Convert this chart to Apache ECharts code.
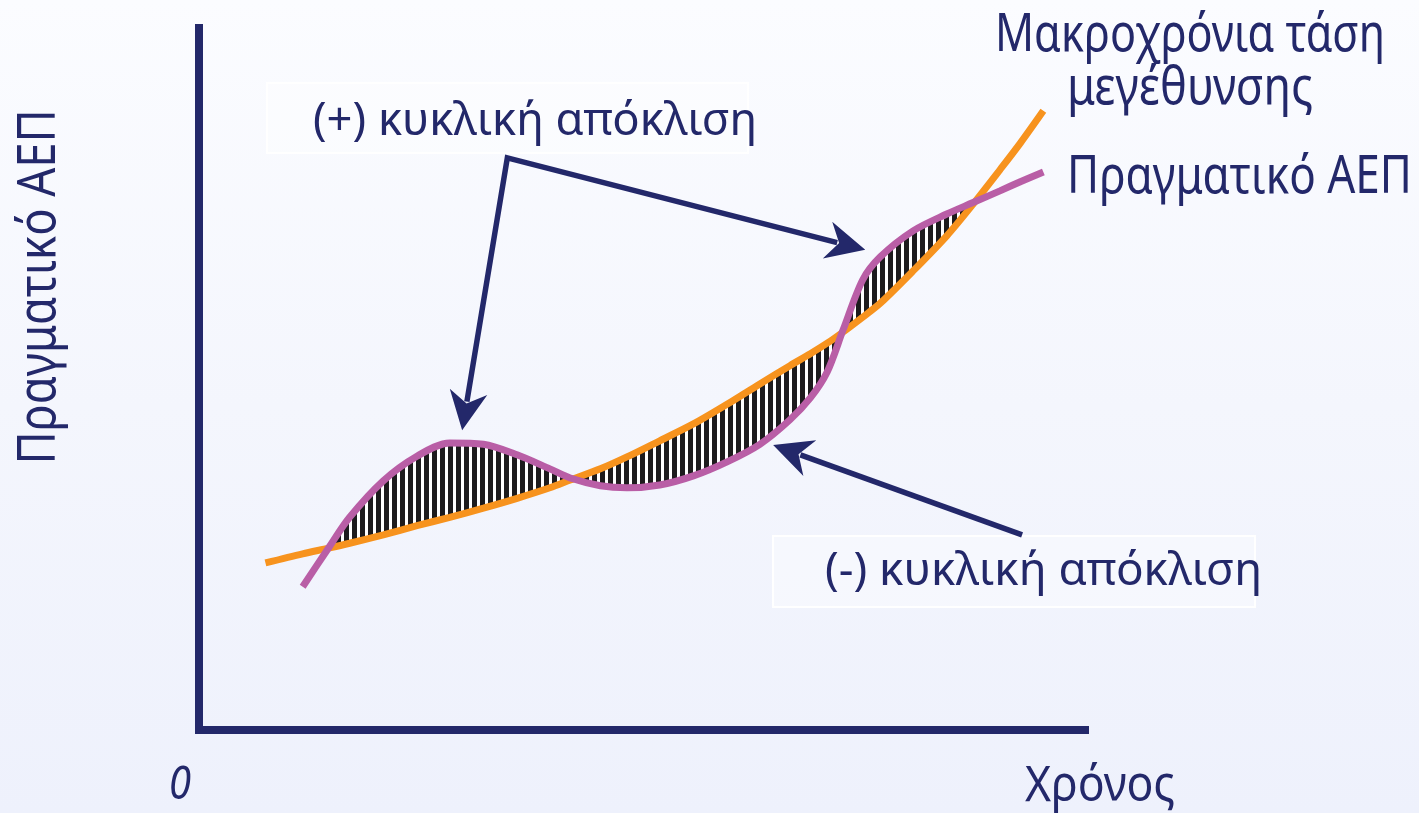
<!DOCTYPE html>
<html lang="el">
<head>
<meta charset="utf-8">
<title>Πραγματικό ΑΕΠ και μακροχρόνια τάση</title>
<script src="https://cdn.jsdelivr.net/npm/echarts@6/dist/echarts.min.js"></script>
<style>
  html, body { margin: 0; padding: 0; }
  body { width: 1419px; height: 813px; background: linear-gradient(180deg, #fbfcff 0%, #f4f6fd 50%, #eef1fc 100%); }
  #chart { width: 1419px; height: 813px; }
</style>
</head>
<body>
<div id="chart"></div>
<script>
// Time (x) and GDP level (y) on a 0–100 schematic scale
const time      = [7.5, 11.7, 14.6, 17.0, 20.8, 24.6, 28.3, 32.1, 35.9, 39.6, 41.9, 45.3, 48.3, 52.0, 55.8, 59.6, 63.3, 66.7, 69.0, 70.9, 72.7, 74.9, 76.9, 80.6, 84.4, 87.3, 90.4, 92.7, 95.3];
// Long-run growth trend
const trendGdp  = [23.8, 25.1, 25.9, 26.6, 27.8, 29.1, 30.3, 31.6, 33.0, 34.5, 35.6, 37.2, 38.9, 41.2, 43.6, 46.4, 49.3, 51.9, 53.6, 55.1, 56.7, 58.8, 60.8, 65.4, 70.4, 74.8, 79.8, 83.6, 88.2];
// Actual (real) GDP
const realGdp   = [null, 20.4, 25.9, 30.3, 35.5, 39.0, 40.9, 40.7, 39.2, 37.2, 35.9, 34.8, 34.5, 34.9, 36.2, 38.2, 40.7, 44.2, 47.3, 51.0, 57.0, 64.1, 67.4, 71.1, 73.5, 75.1, 76.8, 78.1, 79.5];
// Stretch where the cyclical gap is shaded (first to last crossing)
const gapFrom = 2, gapTo = 25;

// Annotation arrows (time, GDP) — the (+) arrow forks from one corner
const plusArrowPath  = [[29.7, 42.7], [34.8, 81.5], [75.2, 68.4]];
const minusArrowPath = [[92.9, 27.8], [64.8, 40.6]];

// Texts
const yAxisTitle   = 'Πραγματικό ΑΕΠ';
const xAxisTitle   = 'Χρόνος';
const originLabel  = '0';
const trendLabel   = ['Μακροχρόνια τάση', 'μεγέθυνσης'];
const realLabel    = 'Πραγματικό ΑΕΠ';
const plusLabel    = '(+) κυκλική απόκλιση';
const minusLabel   = '(-) κυκλική απόκλιση';

const NAVY = '#23286a';
const ORANGE = '#f7931e';
const PURPLE = '#b95ea6';
const FONT = '"Noto Sans", "Open Sans", "DejaVu Sans", sans-serif';

// vertical black/white stripes for the gap fill
function stripePattern() {
  const c = document.createElement('canvas');
  c.width = 8; c.height = 8;
  const g = c.getContext('2d');
  g.fillStyle = '#ffffff'; g.fillRect(0, 0, 8, 8);
  g.fillStyle = '#1d1b1d'; g.fillRect(0, 0, 5, 8);
  return { type: 'pattern', image: c, repeat: 'repeat' };
}

// horizontal squeeze so a string spans a given width
const measureCtx = document.createElement('canvas').getContext('2d');
function squeeze(text, font, width) {
  measureCtx.font = font;
  return width / measureCtx.measureText(text).width;
}

function textEl(text, size, x, y, width, opts) {
  opts = opts || {};
  const font = (opts.italic ? 'italic ' : '') + size + 'px ' + FONT;
  return Object.assign({
    type: 'text', x: x, y: y, z: 100, silent: true,
    scaleX: squeeze(text, font, width),
    style: {
      text: text, font: font, fill: NAVY,
      align: opts.align || 'left', verticalAlign: 'middle',
      textAlign: opts.align || 'left', textVerticalAlign: 'middle'
    }
  }, opts.extra || {});
}

const hatch = stripePattern();

function arrowShapes(path, api, headsAtStart) {
  const pts = path.map(p => api.coord(p));
  const L = 39, W = 19, N = 27;
  const out = [];
  function head(tip, from) {
    const dx = tip[0] - from[0], dy = tip[1] - from[1];
    const len = Math.hypot(dx, dy), ux = dx / len, uy = dy / len, nx = -uy, ny = ux;
    out.push({
      type: 'polygon',
      shape: { points: [
        tip,
        [tip[0] - ux * L + nx * W, tip[1] - uy * L + ny * W],
        [tip[0] - ux * N, tip[1] - uy * N],
        [tip[0] - ux * L - nx * W, tip[1] - uy * L - ny * W]
      ] },
      style: { fill: NAVY }
    });
    return [tip[0] - ux * (N + 2), tip[1] - uy * (N + 2)];
  }
  const line = pts.slice();
  line[line.length - 1] = head(pts[pts.length - 1], pts[pts.length - 2]);
  if (headsAtStart) line[0] = head(pts[0], pts[1]);
  out.unshift({
    type: 'polyline', shape: { points: line },
    style: { stroke: NAVY, lineWidth: 5.5, fill: null, lineJoin: 'miter' }
  });
  return out;
}

const chart = echarts.init(document.getElementById('chart'), null, { renderer: 'canvas' });

chart.setOption({
  backgroundColor: 'transparent',
  animation: false,
  grid: { left: 199, right: 334, top: 28, bottom: 83 },
  xAxis: {
    type: 'value', min: 0, max: 100,
    axisLine: { show: true, onZero: false, lineStyle: { color: NAVY, width: 8, cap: 'square' } },
    axisTick: { show: false }, axisLabel: { show: false }, splitLine: { show: false }
  },
  yAxis: {
    type: 'value', min: 0, max: 100,
    axisLine: { show: true, onZero: false, lineStyle: { color: NAVY, width: 8, cap: 'square' } },
    axisTick: { show: false }, axisLabel: { show: false }, splitLine: { show: false }
  },
  series: [
    {
      name: 'gap',
      type: 'custom',
      z: 1,
      silent: true,
      data: [[0, 0]],
      renderItem: function (params, api) {
        const pts = [];
        for (let i = gapFrom; i <= gapTo; i++) pts.push(api.coord([time[i], realGdp[i]]));
        for (let i = gapTo; i >= gapFrom; i--) pts.push(api.coord([time[i], trendGdp[i]]));
        return { type: 'polygon', shape: { points: pts }, style: { fill: hatch } };
      }
    },
    {
      name: 'Μακροχρόνια τάση μεγέθυνσης',
      type: 'line',
      z: 3,
      smooth: 0.3,
      showSymbol: false,
      data: time.map((t, i) => [t, trendGdp[i]]),
      lineStyle: { color: ORANGE, width: 7 }
    },
    {
      name: 'Πραγματικό ΑΕΠ',
      type: 'line',
      z: 4,
      smooth: 0.3,
      showSymbol: false,
      data: time.map((t, i) => [t, realGdp[i]]),
      lineStyle: { color: PURPLE, width: 7 }
    },
    {
      name: 'arrows',
      type: 'custom',
      z: 5,
      silent: true,
      data: [[0, 0]],
      renderItem: function (params, api) {
        return {
          type: 'group',
          children: arrowShapes(plusArrowPath, api, true).concat(arrowShapes(minusArrowPath, api, false))
        };
      }
    }
  ],
  graphic: [
    // label boxes
    { type: 'rect', z: 0, silent: true, shape: { x: 267, y: 83, width: 481, height: 70 },
      style: { fill: 'rgba(255,255,255,0.35)', stroke: '#ffffff', lineWidth: 2 } },
    { type: 'rect', z: 0, silent: true, shape: { x: 773, y: 536, width: 482, height: 71 },
      style: { fill: 'rgba(255,255,255,0.35)', stroke: '#ffffff', lineWidth: 2 } },
    textEl(plusLabel, 46, 313, 122, 444),
    textEl(minusLabel, 46, 825, 572, 437),
    textEl(trendLabel[0], 52, 995, 36, 390),
    textEl(trendLabel[1], 52, 1067, 89, 246),
    textEl(realLabel, 52, 1067, 178, 345),
    textEl(yAxisTitle, 52, 40, 287, 355, { align: 'center', extra: { rotation: Math.PI / 2 } }),
    textEl(xAxisTitle, 50, 1025, 787, 150),
    textEl(originLabel, 46, 169, 786, 22, { italic: true })
  ]
});
</script>
</body>
</html>
